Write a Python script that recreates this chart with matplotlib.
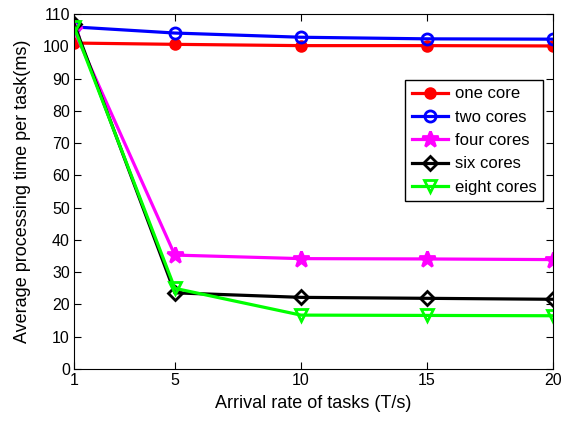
import numpy as np
import matplotlib
matplotlib.use('Agg')
import matplotlib.pyplot as plt

plt.rcParams['font.family'] = ['Liberation Sans', 'DejaVu Sans']

rates = [1, 5, 10, 15, 20]
one_core = [101.0, 100.6, 100.2, 100.2, 100.1]
two_cores = [106.0, 104.1, 102.8, 102.3, 102.2]
four_cores = [105.0, 35.3, 34.2, 34.1, 33.9]
six_cores = [107.0, 23.6, 22.2, 21.9, 21.6]
eight_cores = [106.0, 25.0, 16.7, 16.6, 16.5]

series = [
    ('one core', one_core, '#ff0000', 'o', dict(markerfacecolor='#ff0000', markersize=7)),
    ('two cores', two_cores, '#0000ff', 'o', dict(markerfacecolor='none')),
    ('four cores', four_cores, '#ff00ff', '*', dict(markerfacecolor='#ff00ff', markersize=12)),
    ('six cores', six_cores, 'k', 'D', dict(markerfacecolor='none', markersize=7)),
    ('eight cores', eight_cores, '#00ff00', 'v', dict(markerfacecolor='none', markersize=9)),
]

fig = plt.figure(figsize=(5.63, 4.26), dpi=100)
ax = fig.add_axes([74 / 563, 1 - 369 / 426, (553 - 74) / 563, (369 - 14) / 426])

for label, vals, col, mk, kw in series:
    opts = dict(markersize=8, markeredgewidth=2)
    opts.update(kw)
    ax.plot(rates, vals, color=col, marker=mk, linewidth=2.3, label=label, **opts)

ax.set_xlim(1, 20)
ax.set_ylim(0, 110)
ax.set_xticks(rates)
ax.set_yticks(np.arange(0, 111, 10))
ax.tick_params(direction='in', labelsize=11.5, top=True, right=True, length=5, pad=3)
ax.set_xlabel('Arrival rate of tasks (T/s)', fontsize=13, labelpad=5)
ax.set_ylabel('Average processing time per task(ms)', fontsize=13, labelpad=9)
leg = ax.legend(loc='upper right', bbox_to_anchor=(0.98, 0.815), fontsize=12, fancybox=False,
                edgecolor='k', framealpha=1, handlelength=2.2, borderpad=0.4, labelspacing=0.5,
                handletextpad=0.4, borderaxespad=0)
leg.get_frame().set_linewidth(1)

fig.savefig('out.png', dpi=100)
